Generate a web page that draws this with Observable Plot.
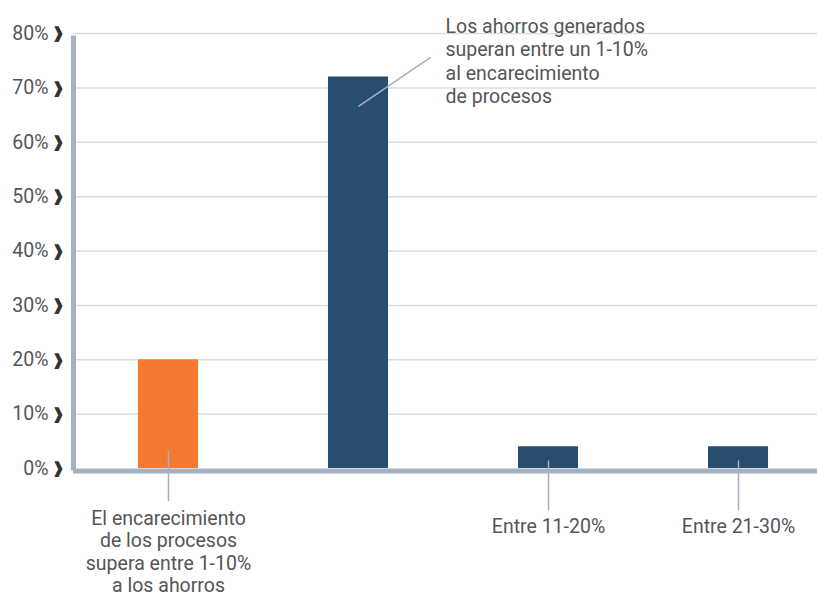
<!DOCTYPE html>
<html>
<head>
<meta charset="utf-8">
<script src="https://cdn.jsdelivr.net/npm/d3@7"></script>
<script src="https://cdn.jsdelivr.net/npm/@observablehq/plot@0.6"></script>
<style>
  html, body { margin: 0; padding: 0; background: #fff; }
  #chart svg { display: block; }
</style>
</head>
<body>
<div id="chart"></div>
<script>
// Data
const categories = ["1-10% encarecimiento", "1-10% ahorros", "Entre 11-20%", "Entre 21-30%"];
const values = [20, 72, 4, 4];
const barColors = ["#f47a32", "#294d6f", "#294d6f", "#294d6f"];
const yTicks = [0, 10, 20, 30, 40, 50, 60, 70, 80];

// Bottom annotation labels (category index, text, leader top, leader bottom, text top)
const bottomLabels = [
  {i: 0, text: "El encarecimiento\nde los procesos\nsupera entre 1-10%\na los ahorros", y1: 3.3, y2: -6.0, ty: -7.5},
  {i: 2, text: "Entre 11-20%", y1: 1.5, y2: -7.7, ty: -9.0},
  {i: 3, text: "Entre 21-30%", y1: 1.5, y2: -7.7, ty: -9.0}
];
// Top annotation for the tall bar
const topLabel = {i: 1, text: "Los ahorros generados\nsuperan entre un 1-10%\nal encarecimiento\nde procesos", x1: 1, y1: 66.6, x2: 1.379, y2: 75.6, tx: 1.458, ty: 83.2};

const bars = categories.map((c, i) => ({i, c, v: values[i], color: barColors[i]}));
const half = 0.158;
const textColor = "#555555";
const axisColor = "#a3b1c0";

const chart = Plot.plot({
  width: 817,
  height: 596,
  marginLeft: 73,
  marginRight: 0,
  marginTop: 33,
  marginBottom: 128,
  style: {fontFamily: "Roboto, sans-serif", fontSize: "19.5px", color: textColor, background: "#fff"},
  x: {domain: [-0.5, 3.5], range: [73, 833], axis: null},
  y: {domain: [0, 80], ticks: yTicks, grid: false, axis: null},
  marks: [
    Plot.gridY(yTicks.filter(d => d > 0), {stroke: "#dddddd", strokeOpacity: 1, strokeWidth: 1.5}),
    Plot.rectY(bars, {x1: d => d.i - half, x2: d => d.i + half, y1: 0, y2: "v", fill: "color"}),
    // leader lines
    Plot.link(bottomLabels, {x1: "i", x2: "i", y1: "y1", y2: "y2", stroke: axisColor, strokeWidth: 1.5}),
    Plot.link([topLabel], {x1: "x1", y1: "y1", x2: "x2", y2: "y2", stroke: axisColor, strokeWidth: 1.5}),
    // axis lines
    Plot.ruleX([-0.5], {y1: 0, y2: 80, stroke: axisColor, strokeWidth: 5, dy: 2.5}),
    Plot.ruleY([0], {x1: -0.5, x2: 3.5, stroke: axisColor, strokeWidth: 5, dy: 2.5}),
    // y tick labels
    Plot.text(yTicks, {y: d => d, frameAnchor: "left", text: d => d + "%", textAnchor: "end", dx: -25, fill: textColor, fontSize: 19.5}),
    Plot.text(yTicks, {y: d => d, frameAnchor: "left", text: d => "❱", textAnchor: "middle", dx: -15.5, fill: "#333", fontSize: 15, fontWeight: "bold"}),
    // annotation texts
    Plot.text(bottomLabels, {x: "i", y: "ty", text: "text", textAnchor: "middle", lineAnchor: "top", lineHeight: 1.14, fill: textColor, fontSize: 19.5}),
    Plot.text([topLabel], {x: "tx", y: "ty", text: "text", textAnchor: "start", lineAnchor: "top", lineHeight: 1.2, fill: textColor, fontSize: 19.5})
  ]
});
document.getElementById("chart").appendChild(chart);
</script>
</body>
</html>
